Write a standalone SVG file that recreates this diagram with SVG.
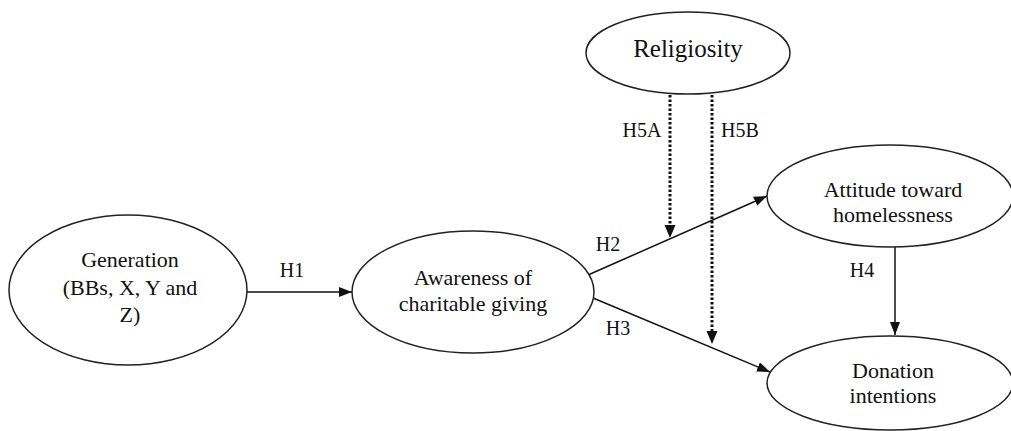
<svg xmlns="http://www.w3.org/2000/svg" width="1011" height="431" viewBox="0 0 1011 431">
<style>
.node{fill:#fff;stroke:#222;stroke-width:1.5}
text{font-family:'Liberation Serif','Times New Roman',Times,'DejaVu Serif',serif;fill:#111;text-anchor:middle}
.t{font-size:22px}
.big{font-size:22px}
.rel{font-size:25px}
.lab{font-size:20px}
.edge{stroke:#111;stroke-width:1.5;fill:none}
.dot{stroke:#111;stroke-width:3;fill:none;stroke-dasharray:2.5 2}
</style>
<defs>
<marker id="ah" markerUnits="userSpaceOnUse" markerWidth="14" markerHeight="12" refX="13" refY="5" orient="auto">
<path d="M0,0 L13,5 L0,10 Z" fill="#111"/>
</marker>
</defs>
<rect width="1011" height="431" fill="#fff"/>
<g id="connectors">
<line class="edge" x1="247" y1="292" x2="352" y2="292" marker-end="url(#ah)"/>
<line class="edge" x1="588" y1="275" x2="767" y2="196" marker-end="url(#ah)"/>
<line class="edge" x1="593" y1="298" x2="770" y2="372" marker-end="url(#ah)"/>
<line class="edge" x1="895" y1="247" x2="895" y2="335" marker-end="url(#ah)"/>
<line class="dot" x1="670" y1="95" x2="670" y2="226"/>
<path d="M664.5,225 L675.5,225 L670,238 Z" fill="#111"/>
<line class="dot" x1="712" y1="95" x2="712" y2="332"/>
<path d="M706.5,331 L717.5,331 L712,344 Z" fill="#111"/>
<text class="lab" x="292" y="277">H1</text>
<text class="lab" x="608" y="251">H2</text>
<text class="lab" x="618" y="335">H3</text>
<text class="lab" x="862" y="277">H4</text>
<text class="lab" x="642" y="137">H5A</text>
<text class="lab" x="740" y="137">H5B</text>
</g>
<g id="generation">
<ellipse class="node" cx="128" cy="290" rx="119" ry="75"/>
<text class="big" x="130" y="267">Generation</text>
<text class="big" x="130" y="295">(BBs, X, Y and</text>
<text class="big" x="130" y="322">Z)</text>
</g>
<g id="awareness">
<ellipse class="node" cx="473" cy="292" rx="121" ry="61"/>
<text class="t" x="473" y="285">Awareness of</text>
<text class="t" x="473" y="311">charitable giving</text>
</g>
<g id="religiosity">
<ellipse class="node" cx="688" cy="53" rx="102" ry="41"/>
<text class="rel" x="688" y="57">Religiosity</text>
</g>
<g id="attitude">
<ellipse class="node" cx="890" cy="196" rx="123" ry="51"/>
<text class="t" x="893" y="197">Attitude toward</text>
<text class="t" x="893" y="222">homelessness</text>
</g>
<g id="donation">
<ellipse class="node" cx="890" cy="383" rx="123" ry="47"/>
<text class="t" x="893" y="378">Donation</text>
<text class="t" x="893" y="403">intentions</text>
</g>
</svg>
